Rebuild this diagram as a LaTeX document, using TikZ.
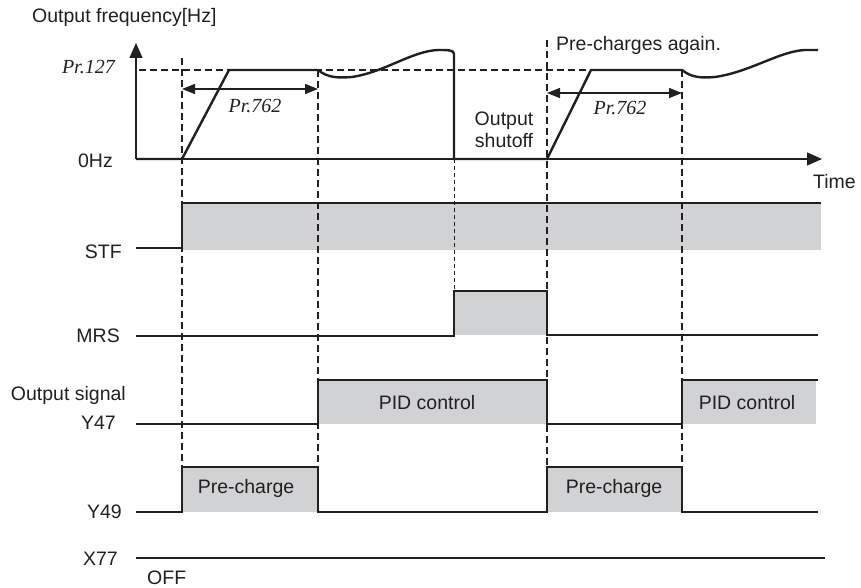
\documentclass[tikz,border=0pt]{standalone}
\usepackage{fontspec}
\setmainfont{Liberation Sans}
\newfontfamily\prfont{Liberation Serif}
\usepackage{tikz}
\usetikzlibrary{arrows.meta}
\usepackage{xcolor}
\definecolor{ink}{RGB}{35,31,32}
\definecolor{ongray}{RGB}{209,210,212}

\begin{document}
\begin{tikzpicture}[x=1pt, y=-1pt,
    sig/.style={line width=2.4pt, ink, line join=miter},
    axis/.style={line width=1.5pt, ink, -{Triangle[length=15pt,width=13pt]}},
    guide/.style={line width=1.3pt, ink, dash pattern=on 7pt off 4pt},
    thinguide/.style={line width=0.9pt, ink, dash pattern=on 4pt off 3pt},
    dim/.style={line width=1.5pt, ink, {Triangle[length=13pt,width=10pt]}-{Triangle[length=13pt,width=10pt]}},
    lbl/.style={font=\fontsize{19.5}{22}\selectfont, text=ink, inner sep=0pt},
    prlbl/.style={font=\prfont\itshape\fontsize{20}{22}\selectfont, text=ink, inner sep=0pt}]
    \useasboundingbox (0,0) rectangle (861,588);

    % Shaded ON periods
    \fill[ongray] (182,203) rectangle (821,250);
    \fill[ongray] (454,291) rectangle (547,335);
    \fill[ongray] (318,380) rectangle (547,424);
    \fill[ongray] (682,380) rectangle (816,424);
    \fill[ongray] (182,467) rectangle (318,512);
    \fill[ongray] (547,467) rectangle (682,512);

    % Timing guides
    \draw[guide] (139,70) -- (682,70);
    \draw[guide] (182,58) -- (182,467);
    \draw[guide] (318,70) -- (318,467);
    \draw[thinguide] (454,159) -- (454,291);
    \draw[guide] (547,40) -- (547,467);
    \draw[guide] (682,70) -- (682,467);

    % Axes
    \coordinate (origin) at (136,159);
    \coordinate (ytip) at (136,43);
    \coordinate (xtip) at (822,159);
    \draw[axis] (origin) -- (ytip);
    \draw[axis] (origin) -- (xtip);

    % Output frequency
    \draw[sig] (136,159) -- (182,159) -- (229,70) -- (318,70)
        .. controls (328,78) and (338,78) .. (352,77)
        .. controls (385,72) and (412,51) .. (438,50)
        .. controls (448,50) and (454,50) .. (454,54) -- (454,159)
        -- (547,159) -- (591,70) -- (682,70)
        .. controls (692,78) and (702,78) .. (715,77)
        .. controls (750,72) and (780,51) .. (805,50) -- (818,50);

    % Pr.762 spans
    \coordinate (spanAl) at (182,89);
    \coordinate (spanAr) at (318,89);
    \coordinate (spanBl) at (547,93);
    \coordinate (spanBr) at (682,93);
    \draw[dim] (spanAl) -- (spanAr);
    \draw[dim] (spanBl) -- (spanBr);
    \node[prlbl] (spanA) at (255,106) {Pr.762};
    \node[prlbl] (spanB) at (620,108) {Pr.762};

    % Signals
    \draw[sig] (136,248) -- (182,248) -- (182,203) -- (821,203);
    \draw[sig] (136,336) -- (454,336) -- (454,291) -- (547,291) -- (547,335) -- (818,335);
    \draw[sig] (136,424) -- (318,424) -- (318,380) -- (547,380) -- (547,424)
        -- (682,424) -- (682,380) -- (818,380);
    \draw[sig] (136,512) -- (182,512) -- (182,467) -- (318,467) -- (318,512)
        -- (547,512) -- (547,467) -- (682,467) -- (682,512) -- (818,512);
    \draw[sig] (136,558) -- (825,558);

    % Labels
    \node[lbl, anchor=west] (freq) at (32,17) {Output frequency[Hz]};
    \node[prlbl, anchor=east] (pr127) at (115,67) {Pr.127};
    \node[lbl, anchor=east] (zerohz) at (113,161) {0Hz};
    \node[lbl, anchor=east] (time) at (856,182) {Time};
    \node[lbl, anchor=west] (again) at (556,45) {Pre-charges again.};
    \node[lbl, align=center] (shutoff) at (504,130) {Output\\shutoff};
    \node[lbl, anchor=east] (stf) at (122,252) {STF};
    \node[lbl, anchor=east] (mrs) at (120,336) {MRS};
    \node[lbl, anchor=east] (outsig) at (126,395) {Output signal};
    \node[lbl, anchor=east] (y47) at (116,423) {Y47};
    \node[lbl, anchor=east] (y49) at (122,512) {Y49};
    \node[lbl, anchor=east] (x77) at (118,559) {X77};
    \node[lbl, anchor=west] (off) at (147,578) {OFF};
    \node[lbl] (pidA) at (427,403) {PID control};
    \node[lbl] (pidB) at (747,403) {PID control};
    \node[lbl] (chargeA) at (246,488) {Pre-charge};
    \node[lbl] (chargeB) at (614,488) {Pre-charge};
\end{tikzpicture}
\end{document}
